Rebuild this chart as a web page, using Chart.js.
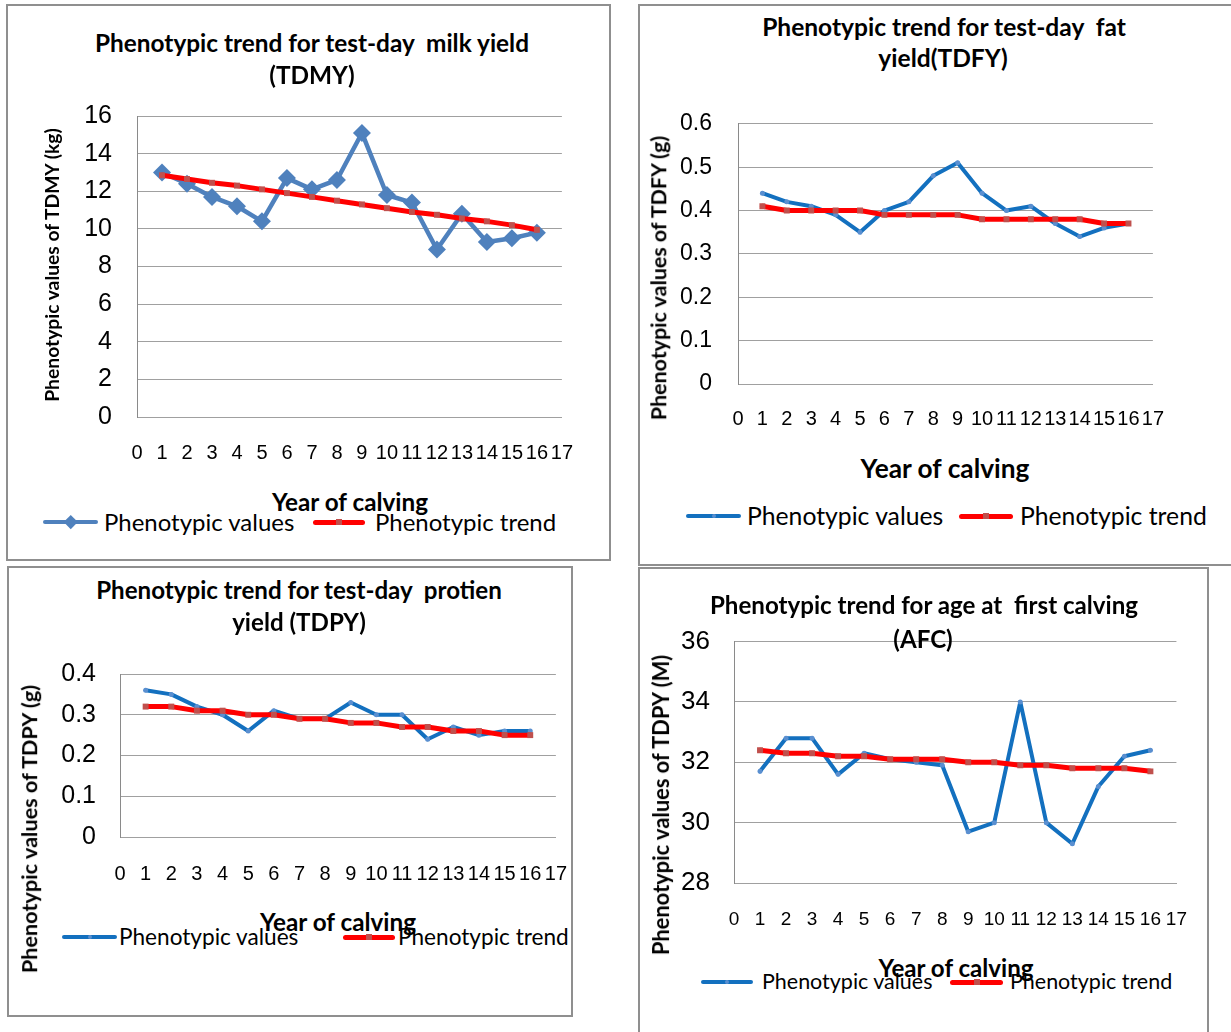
<!DOCTYPE html>
<html lang="en">
<head>
<meta charset="UTF-8">
<title>Phenotypic trends</title>
<script src="https://cdn.jsdelivr.net/npm/chart.js@4"></script>
<style>
  body { margin: 0; width: 1231px; height: 1032px; position: relative; overflow: hidden; background: #fff; }
  .box { position: absolute; border: 2px solid #8f8f8f; box-sizing: border-box; }
  canvas { position: absolute; }
  .t { position: absolute; white-space: pre; line-height: 1; color: #000; font-family: Lato, sans-serif; }
  .sw { position: absolute; }
</style>
</head>
<body>
<div class="box" style="left:6px;top:4px;width:605px;height:557px"></div>
<div class="box" style="left:638px;top:4px;width:620px;height:562px"></div>
<div class="box" style="left:7px;top:566px;width:566px;height:451px"></div>
<div class="box" style="left:638px;top:567px;width:571px;height:480px"></div>

<script>
// years on the x axis
const years = [1, 2, 3, 4, 5, 6, 7, 8, 9, 10, 11, 12, 13, 14, 15, 16];

// test-day milk yield (kg)
const tdmyValues = [13.0, 12.4, 11.7, 11.2, 10.4, 12.7, 12.1, 12.6, 15.1, 11.8, 11.4, 8.9, 10.8, 9.3, 9.5, 9.8];
const tdmyTrend  = [12.85, 12.65, 12.45, 12.3, 12.1, 11.9, 11.7, 11.5, 11.3, 11.1, 10.9, 10.75, 10.55, 10.4, 10.2, 9.95];

// test-day fat yield (g)
const tdfyValues = [0.44, 0.42, 0.41, 0.39, 0.35, 0.40, 0.42, 0.48, 0.51, 0.44, 0.40, 0.41, 0.37, 0.34, 0.36, 0.37];
const tdfyTrend  = [0.41, 0.40, 0.40, 0.40, 0.40, 0.39, 0.39, 0.39, 0.39, 0.38, 0.38, 0.38, 0.38, 0.38, 0.37, 0.37];

// test-day protein yield (g)
const tdpyValues = [0.36, 0.35, 0.32, 0.30, 0.26, 0.31, 0.29, 0.29, 0.33, 0.30, 0.30, 0.24, 0.27, 0.25, 0.26, 0.26];
const tdpyTrend  = [0.32, 0.32, 0.31, 0.31, 0.30, 0.30, 0.29, 0.29, 0.28, 0.28, 0.27, 0.27, 0.26, 0.26, 0.25, 0.25];

// age at first calving (months)
const afcValues = [31.7, 32.8, 32.8, 31.6, 32.3, 32.1, 32.0, 31.9, 29.7, 30.0, 34.0, 30.0, 29.3, 31.2, 32.2, 32.4];
const afcTrend  = [32.4, 32.3, 32.3, 32.2, 32.2, 32.1, 32.1, 32.1, 32.0, 32.0, 31.9, 31.9, 31.8, 31.8, 31.8, 31.7];

// axis ranges [min, max, step]
const xRange    = [0, 17, 1];
const tdmyRange = [0, 16, 2];
const tdfyRange = [0, 0.6, 0.1];
const tdpyRange = [0, 0.4, 0.1];
const afcRange  = [28, 36, 2];

const seriesNames = ['Phenotypic values', 'Phenotypic trend'];

const pts = (vals) => years.map((x, i) => ({ x: x, y: vals[i] }));

// text helpers
const meas = document.createElement('canvas').getContext('2d');
function fitSize(s, w, bold) {
  meas.font = (bold ? 'bold ' : '') + '100px Lato';
  return 100 * w / meas.measureText(s).width;
}
function put(s, x, y, size, opt) {
  const d = document.createElement('div');
  d.className = 't';
  d.textContent = s;
  d.style.fontSize = size + 'px';
  d.style.fontWeight = opt.bold ? '700' : '400';
  d.style.left = x + 'px';
  d.style.top = y + 'px';
  let tr = opt.left ? 'translate(0,-50%)' : 'translate(-50%,-50%)';
  if (opt.rot) tr += ' rotate(-90deg)';
  d.style.transform = tr;
  document.body.appendChild(d);
}
function swatch(x1, x2, y, lw, color, mark) {
  const l = document.createElement('div');
  l.className = 'sw';
  l.style.cssText = `left:${x1}px;top:${y - lw / 2}px;width:${x2 - x1}px;height:${lw}px;background:${color};border-radius:${lw / 2}px`;
  document.body.appendChild(l);
  if (!mark) return;
  const m = document.createElement('div');
  m.className = 'sw';
  const cx = (x1 + x2) / 2;
  m.style.cssText = `left:${cx - mark.s / 2}px;top:${y - mark.s / 2}px;width:${mark.s}px;height:${mark.s}px;background:${mark.c};` +
    (mark.type === 'diamond' ? 'transform:rotate(45deg);' : '') + (mark.type === 'dot' ? 'border-radius:50%;' : '');
  document.body.appendChild(m);
}

function chartConfig(c) {
  const tickFont = "'Liberation Sans', Arial, sans-serif";
  return {
    type: 'line',
    data: {
      datasets: [
        Object.assign({
          label: seriesNames[0],
          data: pts(c.values),
          order: 1,
          tension: 0,
          borderJoinStyle: 'round',
          borderCapStyle: 'round'
        }, c.valueStyle),
        {
          label: seriesNames[1],
          data: pts(c.trend),
          order: 0,
          tension: 0,
          borderColor: '#ff0000',
          borderWidth: 5,
          borderJoinStyle: 'round',
          borderCapStyle: 'round',
          pointStyle: 'rect',
          pointRadius: 4.2,
          pointBorderWidth: 0,
          pointBackgroundColor: '#c0504d'
        }
      ]
    },
    options: {
      responsive: false,
      maintainAspectRatio: false,
      animation: false,
      layout: { padding: { top: 20, right: 20, left: 0, bottom: 0 } },
      plugins: { legend: { display: false }, tooltip: { enabled: false } },
      scales: {
        x: {
          type: 'linear',
          min: xRange[0], max: xRange[1],
          afterFit: (s) => { s.height = 50; },
          grid: { display: false, drawTicks: false },
          border: { display: true, color: '#a0a0a0', width: 1 },
          ticks: {
            stepSize: xRange[2], autoSkip: false, maxRotation: 0,
            padding: c.xPad, color: '#000',
            font: { family: tickFont, size: c.xFont }
          }
        },
        y: {
          min: c.range[0], max: c.range[1],
          afterFit: (s) => { s.width = 100; },
          grid: { color: '#a0a0a0', lineWidth: 1, drawTicks: false },
          border: { display: true, color: '#8a8a8a', width: 1 },
          ticks: {
            stepSize: c.range[2], padding: c.yPad, color: '#000',
            font: { family: tickFont, size: c.yFont }
          }
        }
      }
    }
  };
}

function makeChart(c) {
  const p = c.plot;
  const cv = document.createElement('canvas');
  cv.width = (p.r - p.l) + 120;
  cv.height = (p.b - p.t) + 70;
  cv.style.left = (p.l - 100) + 'px';
  cv.style.top = (p.t - 20) + 'px';
  document.body.appendChild(cv);

  let ch = new Chart(cv.getContext('2d'), chartConfig(c));
  // the layout can eat a bit more room than the padding asks for; grow the canvas to keep the plot box
  const a = ch.chartArea;
  const dl = Math.round(a.left - 100), dt = Math.round(a.top - 20);
  const dr = Math.round((cv.width - 20) - a.right), db = Math.round((cv.height - 50) - a.bottom);
  if (dl || dt || dr || db) {
    const w = cv.width + dl + dr, h = cv.height + dt + db;
    ch.destroy();
    cv.width = w;
    cv.height = h;
    cv.style.left = (p.l - 100 - dl) + 'px';
    cv.style.top = (p.t - 20 - dt) + 'px';
    ch = new Chart(cv.getContext('2d'), chartConfig(c));
  }

  // titles
  const ts = fitSize(c.title[0], c.titleW, true);
  put(c.title[0], c.titleX, c.titleY[0], ts, { bold: true });
  put(c.title[1], c.titleX2, c.titleY[1], ts, { bold: true });
  put(c.yTitle, c.yTitlePos[0], c.yTitlePos[1], fitSize(c.yTitle, c.yTitlePos[2], true), { bold: true, rot: true });
  const lg = fitSize(seriesNames[0], c.legend.w, false);
  swatch(c.legend.b[0], c.legend.b[1], c.legend.y, c.legend.blw, c.legend.bc, c.legend.bm);
  put(seriesNames[0], c.legend.bt, c.legend.y, lg, { left: true });
  swatch(c.legend.r[0], c.legend.r[1], c.legend.y, 5, '#ff0000', { type: 'rect', s: 6, c: '#c0504d' });
  put(seriesNames[1], c.legend.rt, c.legend.y, lg, { left: true });
  put('Year of calving', c.xTitle[0], c.xTitle[1], fitSize('Year of calving', c.xTitle[2], true), { bold: true });
}

const blueStyle = {
  borderColor: '#1370bf', borderWidth: 4,
  pointStyle: 'circle', pointRadius: 2.5, pointBorderWidth: 0, pointBackgroundColor: '#5a8fd0'
};

makeChart({
  plot: { l: 137, t: 116, r: 562, b: 417 },
  range: tdmyRange, values: tdmyValues, trend: tdmyTrend,
  valueStyle: {
    borderColor: '#4f81bd', borderWidth: 4.5,
    pointStyle: 'rectRot', pointRadius: 9, pointBorderWidth: 0, pointBackgroundColor: '#4f81bd'
  },
  xFont: 20, xPad: 24, yFont: 25, yPad: 25,
  title: ['Phenotypic trend for test-day  milk yield', '(TDMY)'],
  titleX: 312, titleX2: 312, titleY: [43, 75], titleW: 436,
  yTitle: 'Phenotypic values of TDMY (kg)', yTitlePos: [52, 265, 276],
  xTitle: [350, 502, 157],
  legend: { y: 522, w: 191, b: [43, 98], bt: 104, r: [313, 365], rt: 375, blw: 4.5, bc: '#4f81bd', bm: { type: 'diamond', s: 9.5, c: '#4f81bd' } }
});

makeChart({
  plot: { l: 738, t: 124, r: 1153, b: 384 },
  range: tdfyRange, values: tdfyValues, trend: tdfyTrend,
  valueStyle: blueStyle,
  xFont: 20, xPad: 23, yFont: 23, yPad: 26,
  title: ['Phenotypic trend for test-day  fat', 'yield(TDFY)'],
  titleX: 944, titleX2: 943, titleY: [27, 58], titleW: 365,
  yTitle: 'Phenotypic values of TDFY (g)', yTitlePos: [659, 278, 287],
  xTitle: [945, 468, 170],
  legend: { y: 516, w: 197, b: [686, 741], bt: 747, r: [959, 1013], rt: 1020, blw: 4, bc: '#1370bf', bm: { type: 'dot', s: 4, c: '#5a8fd0' } }
});

makeChart({
  plot: { l: 120, t: 674, r: 556, b: 837 },
  range: tdpyRange, values: tdpyValues, trend: tdpyTrend,
  valueStyle: blueStyle,
  xFont: 20, xPad: 25, yFont: 25, yPad: 24,
  title: ['Phenotypic trend for test-day  protien', 'yield (TDPY)'],
  titleX: 299, titleX2: 299, titleY: [590, 622], titleW: 407,
  yTitle: 'Phenotypic values of TDPY (g)', yTitlePos: [30, 829, 291],
  xTitle: [338, 922, 157],
  legend: { y: 937, w: 180, b: [62, 117], bt: 119, r: [343, 395], rt: 398, blw: 4, bc: '#1370bf', bm: { type: 'dot', s: 4, c: '#5a8fd0' } }
});

makeChart({
  plot: { l: 734, t: 642, r: 1176, b: 883 },
  range: afcRange, values: afcValues, trend: afcTrend,
  valueStyle: blueStyle,
  xFont: 19, xPad: 25, yFont: 26, yPad: 24,
  title: ['Phenotypic trend for age at  first calving', '(AFC)'],
  titleX: 924, titleX2: 923, titleY: [605, 639], titleW: 429,
  yTitle: 'Phenotypic values of TDPY (M)', yTitlePos: [661, 805, 303],
  xTitle: [956, 968, 156],
  legend: { y: 982, w: 171, b: [701, 753], bt: 762, r: [950, 1003], rt: 1010, blw: 4, bc: '#1370bf', bm: { type: 'dot', s: 4, c: '#5a8fd0' } }
});
</script>
</body>
</html>
